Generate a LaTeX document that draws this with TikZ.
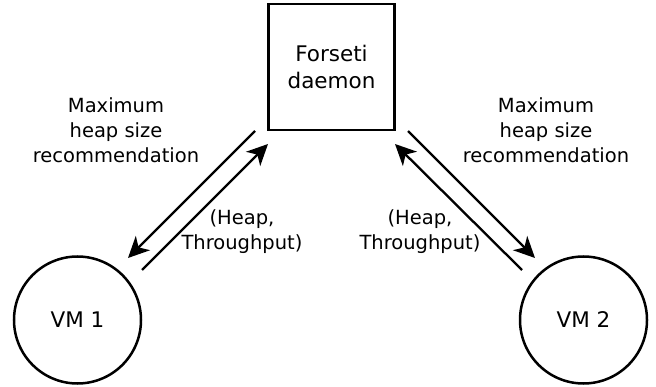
\documentclass[tikz,border=0pt]{standalone}
\usepackage{fontspec}
\setmainfont{DejaVu Sans}
\usetikzlibrary{arrows.meta}
\begin{document}
\begin{tikzpicture}[x=1pt,y=-1pt,
  every node/.style={font=\fontsize{19.5}{25}\selectfont, inner sep=0pt},
  lbl/.style={align=center},
  big/.style={font=\fontsize{21.5}{27}\selectfont},
  boxn/.style={draw, line width=2.5pt, minimum width=126pt, minimum height=126pt},
  vm/.style={draw, circle, line width=2.5pt, minimum size=127pt},
  conn/.style={line width=2.3pt, -{Stealth[length=21pt,width=20pt,inset=6pt]}}]
\useasboundingbox (0,0) rectangle (656,387);
\node[boxn, lbl, big] (daemon) at (331.5,67) {Forseti\\daemon};
\node[vm, big] (vm1) at (77.5,320) {VM 1};
\node[vm, big] (vm2) at (583.5,320) {VM 2};
\coordinate (a1s) at (255,131); \coordinate (a1e) at (128,258);
\coordinate (a2s) at (142,270); \coordinate (a2e) at (268,144);
\coordinate (b1s) at (522,270); \coordinate (b1e) at (395,144);
\coordinate (b2s) at (408,131); \coordinate (b2e) at (535,258);
\draw[conn] (a1s) -- (a1e);
\draw[conn] (a2s) -- (a2e);
\draw[conn] (b1s) -- (b1e);
\draw[conn] (b2s) -- (b2e);
\node[lbl] (ml) at (116,130) {Maximum\\heap size\\recommendation};
\node[lbl] (mr) at (546,130) {Maximum\\heap size\\recommendation};
\node[lbl] (hl) at (242,232) {(Heap,\\Throughput)};
\node[lbl] (hr) at (420,232) {(Heap,\\Throughput)};
\end{tikzpicture}
\end{document}
